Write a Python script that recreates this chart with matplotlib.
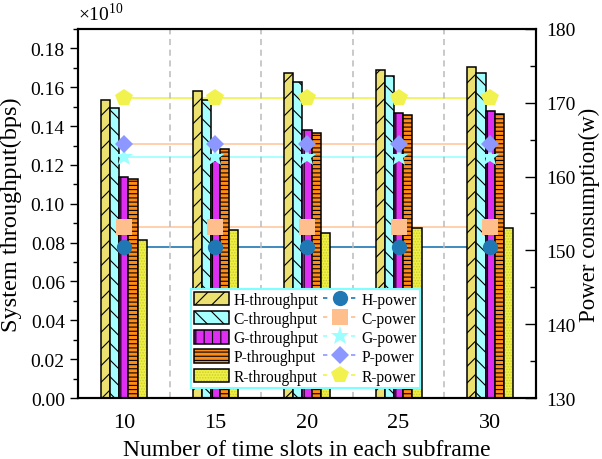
import numpy as np
import matplotlib
matplotlib.use("Agg")
import matplotlib.pyplot as plt
from matplotlib.ticker import MultipleLocator, FixedLocator
from matplotlib.lines import Line2D

plt.rcParams['font.family'] = ['Liberation Serif', 'DejaVu Serif']
plt.rcParams['mathtext.fontset'] = 'custom'
plt.rcParams['mathtext.rm'] = 'Liberation Serif'
plt.rcParams['hatch.linewidth'] = 0.8

# ---------------- data ----------------
slots = [10, 15, 20, 25, 30]

# throughput, in units of 1e10 bps
h_tp = [0.1533, 0.1580, 0.1671, 0.1691, 0.1702]
c_tp = [0.1495, 0.1536, 0.1628, 0.1657, 0.1674]
g_tp = [0.1140, 0.1220, 0.1381, 0.1468, 0.1478]
p_tp = [0.1128, 0.1283, 0.1367, 0.1455, 0.1464]
r_tp = [0.0813, 0.0866, 0.0851, 0.0875, 0.0876]

# power consumption (w)
h_pw = [150.4, 150.4, 150.4, 150.4, 150.4]
c_pw = [153.2, 153.2, 153.2, 153.2, 153.2]
g_pw = [162.6, 162.6, 162.6, 162.6, 162.6]
p_pw = [164.4, 164.4, 164.4, 164.4, 164.4]
r_pw = [170.6, 170.6, 170.6, 170.6, 170.6]

tp_labels = ["H-throughput", "C-throughput", "G-throughput", "P-throughput", "R-throughput"]
pw_labels = ["H-power", "C-power", "G-power", "P-power", "R-power"]

# ---------------- styles ----------------
bar_colors = ["#ECE070", "#A6FFFF", "#DD2EF2", "#FF8A14", "#F0F040"]
bar_hatches = ["//", "\\\\", "||", "----", None]
pw_colors = ["#1F77B4", "#FFBF8C", "#9CFFFF", "#8C98FF", "#F2F24E"]
pw_line_colors = ["#1F77B4", "#FFC8A0", "#9CFFFF", "#FFC8A0", "#F2F24E"]
pw_markers = ["o", "s", "*", "D", "p"]
pw_msize = [11, 11, 14, 9, 13]

fig = plt.figure(figsize=(6.02, 4.60), dpi=100)
ax = fig.add_axes([0.1296, 0.1326, 0.7608, 0.8022])
ax2 = ax.twinx()

x = np.array(slots, dtype=float)
w = 0.5
tps = [h_tp, c_tp, g_tp, p_tp, r_tp]
pws = [h_pw, c_pw, g_pw, p_pw, r_pw]

tp_handles = []
for i, (vals, col, hat) in enumerate(zip(tps, bar_colors, bar_hatches)):
    pos = x + (i - 2) * w
    if hat is None:
        # dotted fill, then a plain black outline on top
        b1 = ax.bar(pos, vals, w, color=col, edgecolor="#CCCC3C", hatch="......",
                    linewidth=0, zorder=2)
        b2 = ax.bar(pos, vals, w, fill=False, edgecolor="black", linewidth=1.1, zorder=2.1)
        tp_handles.append((b1.patches[0], b2.patches[0]))
    else:
        b = ax.bar(pos, vals, w, color=col, edgecolor="black", hatch=hat,
                   linewidth=1.1, zorder=2)
        tp_handles.append(b)

# power lines sit behind the bars, markers on top
pw_handles = []
for vals, col, lcol, mk, ms in zip(pws, pw_colors, pw_line_colors, pw_markers, pw_msize):
    ax.plot(x, vals, color=lcol, lw=1.2, zorder=1, transform=ax2.transData)
    ax2.plot(x, vals, ls="none", marker=mk, ms=ms, color=col,
             markeredgewidth=0, zorder=3)
    # legend key: short dash, marker, short dash
    pw_handles.append(Line2D([], [], color=col, lw=1.2, dashes=(2.6, 14.2),
                             marker=mk, ms=ms, markeredgewidth=0))

# ---------------- axes ----------------
ax.set_xlim(7.5, 32.5)
ax.set_ylim(0, 0.19)
ax2.set_ylim(130, 180)

ax.set_xticks(slots)
ax.xaxis.set_minor_locator(FixedLocator([12.5, 17.5, 22.5, 27.5]))
ax.grid(which="minor", axis="x", color="#BBBBBB", ls=(0, (4, 3)), lw=1.1, zorder=0)
ax.tick_params(axis="x", which="both", length=0, labelsize=16, pad=11)

ax.yaxis.set_major_locator(MultipleLocator(0.02))
ax.yaxis.set_minor_locator(MultipleLocator(0.01))
ax.yaxis.set_major_formatter(plt.FuncFormatter(lambda v, p: f"{v:.2f}"))
ax.tick_params(axis="y", which="major", direction="out", length=6, width=1, labelsize=14)
ax.tick_params(axis="y", which="minor", direction="out", length=3.5, width=1)

ax2.yaxis.set_major_locator(MultipleLocator(10))
ax2.yaxis.set_minor_locator(MultipleLocator(5))
ax2.tick_params(axis="y", which="major", direction="in", length=8, width=1, labelsize=14, pad=7)
ax2.tick_params(axis="y", which="minor", direction="in", length=4.5, width=1)

for a in (ax, ax2):
    for s in a.spines.values():
        s.set_linewidth(1.5)

ax.text(0.0, 1.012, r"$\times10^{10}$", transform=ax.transAxes, fontsize=14,
        ha="left", va="bottom")

ax.set_xlabel("Number of time slots in each subframe", fontsize=17, labelpad=5)
ax.set_ylabel("System throughput(bps)", fontsize=17.5, labelpad=6)
ax2.set_ylabel("Power consumption(w)", fontsize=16.5, labelpad=3)

leg = ax2.legend(tp_handles + pw_handles, tp_labels + pw_labels, ncol=2,
                 loc="lower center", bbox_to_anchor=(0.497, 0.028),
                 fontsize=11.2, handlelength=2.2, handleheight=0.95,
                 handletextpad=0.3, columnspacing=0.3, labelspacing=0.2,
                 borderpad=0.2, borderaxespad=0, fancybox=False, framealpha=1)
leg.get_frame().set_edgecolor("#7FFFFF")
leg.get_frame().set_linewidth(1.5)
leg.set_zorder(5)

fig.savefig("out.png", dpi=100)
